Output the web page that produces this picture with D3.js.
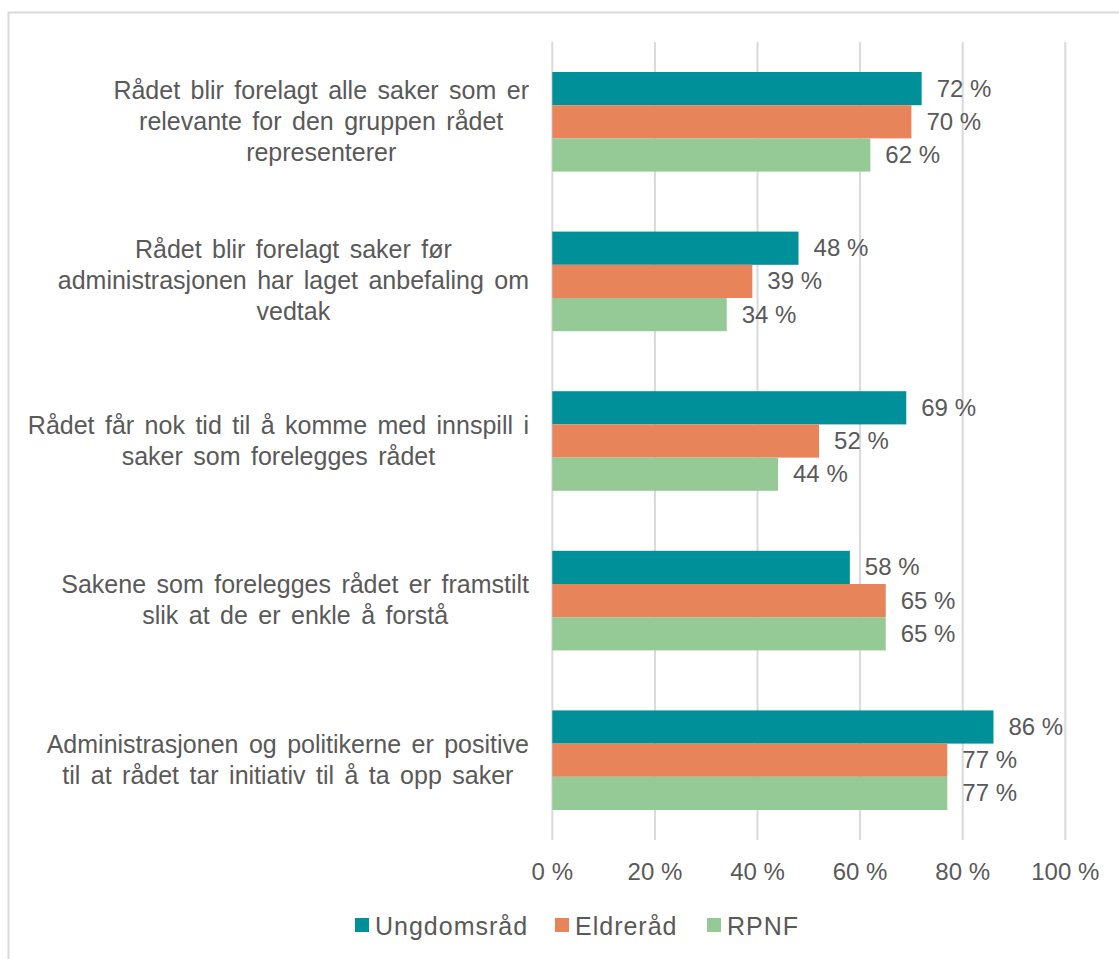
<html>
<head>
<script src="https://d3js.org/d3.v7.min.js"></script>
<style>
body { margin: 0; background: #fff; }
text { font-family: Arial, 'Liberation Sans', sans-serif; fill: #595959; }
</style>
</head>
<body>
<div id="chart"></div>
<script>
var width = 1119;
var height = 959;

// categories, already wrapped as in the picture
var categories = [
	["Rådet blir forelagt alle saker som er", "relevante for den gruppen rådet", "representerer"],
	["Rådet blir forelagt saker før", "administrasjonen har laget anbefaling om", "vedtak"],
	["Rådet får nok tid til å komme med innspill i", "saker som forelegges rådet"],
	["Sakene som forelegges rådet er framstilt", "slik at de er enkle å forstå"],
	["Administrasjonen og politikerne er positive", "til at rådet tar initiativ til å ta opp saker"]
];
var seriesNames = ["Ungdomsråd", "Eldreråd", "RPNF"];
var ungdomsrad = [72, 48, 69, 58, 86];
var eldrerad = [70, 39, 52, 65, 77];
var rpnf = [62, 34, 44, 65, 77];
var xTicks = [0, 20, 40, 60, 80, 100];
var colors = ["#00909a", "#e8845a", "#95c995"];

var values = [ungdomsrad, eldrerad, rpnf];

var svg = d3.select("#chart").append("svg").attr("width", width).attr("height", height);

// outer frame, runs off the right and bottom edges
svg.append("rect")
.attr("x", 8.5).attr("y", 12.5)
.attr("width", 1200).attr("height", 1000)
.style("fill", "none").style("stroke", "#d9d9d9").style("stroke-width", 2);

var xScale = d3.scaleLinear().domain([0, 100]).range([552.3, 1065.3]);
var yScale = d3.scaleBand().domain(d3.range(categories.length)).range([42, 840])
	.paddingInner(0.376).paddingOuter(0.188);
var subScale = d3.scaleBand().domain(d3.range(seriesNames.length)).range([0, yScale.bandwidth()]);

// gridlines
svg.selectAll(".grid").data(xTicks)
.enter().append("line")
.attr("class", "grid")
.attr("x1", function(d) { return xScale(d); })
.attr("x2", function(d) { return xScale(d); })
.attr("y1", 42).attr("y2", 840)
.style("stroke", "#d9d9d9").style("stroke-width", 2);

// x tick labels
svg.selectAll(".tick").data(xTicks)
.enter().append("text")
.attr("class", "tick")
.attr("x", function(d) { return xScale(d); })
.attr("y", 880)
.attr("text-anchor", "middle")
.style("font-size", "24px")
.text(function(d) { return d + " %"; });

// bars, one group per series
var bars = [];
values.forEach(function(series, s) {
	series.forEach(function(v, i) {
		bars.push({ s: s, i: i, v: v });
	});
});

svg.selectAll(".bar").data(bars)
.enter().append("rect")
.attr("class", "bar")
.attr("x", xScale(0))
.attr("y", function(d) { return yScale(d.i) + subScale(d.s); })
.attr("width", function(d) { return xScale(d.v) - xScale(0); })
.attr("height", subScale.bandwidth())
.style("fill", function(d) { return colors[d.s]; });

svg.selectAll(".label").data(bars)
.enter().append("text")
.attr("class", "label")
.attr("x", function(d) { return xScale(d.v) + 15; })
.attr("y", function(d) { return yScale(d.i) + subScale(d.s) + subScale.bandwidth() / 2 + 8; })
.style("font-size", "24px")
.text(function(d) { return d.v + " %"; });

// category labels: lines centred inside a box that is right-aligned to the axis
var lineHeight = 31;
var labelRight = 529;
var catText = svg.selectAll(".cat").data(categories)
.enter().append("text")
.attr("class", "cat")
.attr("text-anchor", "middle")
.style("font-size", "25px")
.style("word-spacing", "3.5px");

catText.each(function(lines, i) {
	var mid = yScale(i) + yScale.bandwidth() / 2;
	var top = mid - (lines.length - 1) * lineHeight / 2;
	var spans = d3.select(this).selectAll("tspan").data(lines)
	.enter().append("tspan")
	.attr("y", function(d, k) { return top + k * lineHeight + 8; })
	.text(function(d) { return d; });
	var maxW = d3.max(spans.nodes(), function(n) { return n.getComputedTextLength(); });
	spans.attr("x", labelRight - maxW / 2);
});

// legend
var legendX = [355, 555, 707];
var legend = svg.selectAll(".legend").data(seriesNames)
.enter().append("g")
.attr("class", "legend")
.attr("transform", function(d, i) { return "translate(" + legendX[i] + ",918)"; });

legend.append("rect")
.attr("width", 14).attr("height", 14)
.style("fill", function(d, i) { return colors[i]; });

legend.append("text")
.attr("x", 20).attr("y", 17)
.style("font-size", "25px")
.style("letter-spacing", "1px")
.text(function(d) { return d; });
</script>
</body>
</html>
